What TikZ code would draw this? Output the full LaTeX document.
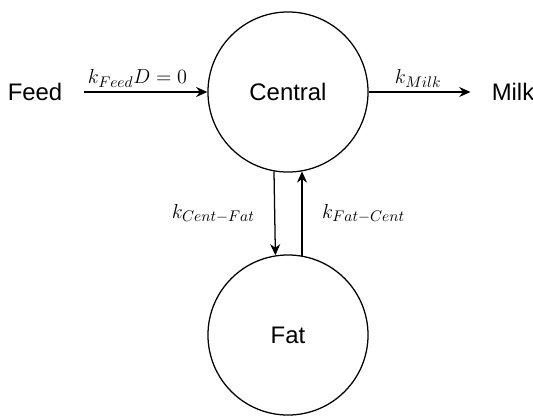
\documentclass[tikz,border=0pt]{standalone}
\usepackage{fontspec}
\setmainfont{Liberation Sans}
\usetikzlibrary{arrows.meta,positioning}
\begin{document}
\begin{tikzpicture}[x=0.025cm, y=-0.025cm, >={Stealth[length=0.28cm,width=0.25cm]}, line width=0.9pt,
  comp/.style={draw, circle, minimum size=4cm, inner sep=0pt, font=\fontsize{17}{20}\selectfont},
  word/.style={font=\fontsize{17}{20}\selectfont},
  rate/.style={font=\fontsize{15}{18}\selectfont, inner sep=1pt}]
\useasboundingbox (0,0) rectangle (533,416);
\node[comp](central) at (288,92){Central};
\node[comp](fat) at (288,335){Fat};
\node[word](feed) at (35,92){Feed};
\node[word](milk) at (513,92){Milk};
\draw[->, shorten <=0.4cm](feed.east)--(central) node[rate, midway, above=2pt]{$k_{Feed}D=0$};
\draw[->, shorten >=0.4cm](central)--(milk.west) node[rate, pos=0.42, above=2pt]{$k_{Milk}$};
\draw[->](central.260.5)--(fat.99.5) node[rate, midway, left=0.45cm]{$k_{Cent-Fat}$};
\draw[->](fat.80)--(central.280) node[rate, midway, right=0.45cm]{$k_{Fat-Cent}$};
\end{tikzpicture}
\end{document}
